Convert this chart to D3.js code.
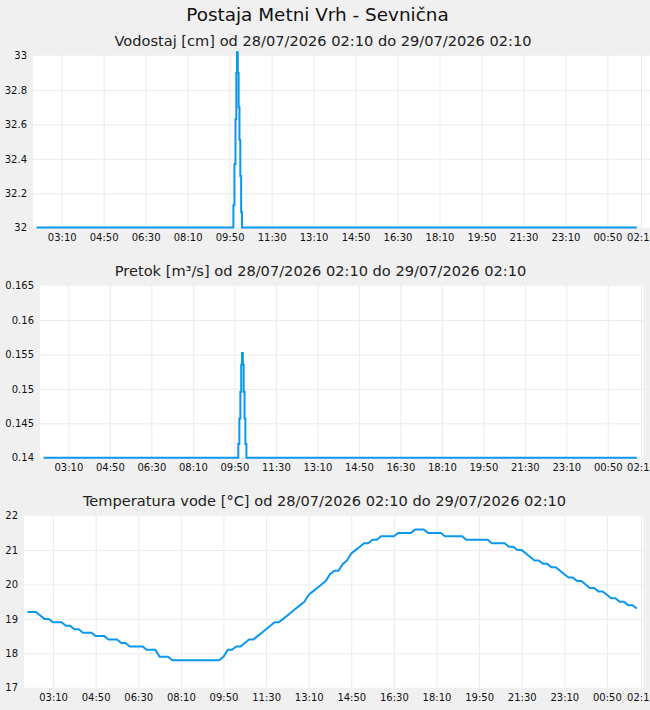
<!DOCTYPE html>
<html>
<head>
<meta charset="utf-8">
<script src="https://cdn.jsdelivr.net/npm/d3@7"></script>
<style>
html, body { margin: 0; padding: 0; background: #f0f0f0; }
svg { display: block; }
text { font-family: "DejaVu Sans", sans-serif; }
</style>
</head>
<body>
<svg id="chart" width="650" height="710"></svg>
<script>
// ---------------- DATA ----------------
const stationTitle = "Postaja Metni Vrh - Sevnična";
const levelTitle = "Vodostaj [cm] od 28/07/2026 02:10 do 29/07/2026 02:10";
const flowTitle = "Pretok [m³/s] od 28/07/2026 02:10 do 29/07/2026 02:10";
const tempTitle = "Temperatura vode [°C] od 28/07/2026 02:10 do 29/07/2026 02:10";

const startTime = "2026-07-28 02:10";
const endTime = "2026-07-29 02:10";

const xTickTimes = ["2026-07-28 03:10","2026-07-28 04:50","2026-07-28 06:30","2026-07-28 08:10",
  "2026-07-28 09:50","2026-07-28 11:30","2026-07-28 13:10","2026-07-28 14:50","2026-07-28 16:30",
  "2026-07-28 18:10","2026-07-28 19:50","2026-07-28 21:30","2026-07-28 23:10","2026-07-29 00:50",
  "2026-07-29 02:10"];

// Water level (minutes after start, value in cm) – step data
const levelMinutes = [0, 469, 471.5, 474, 476, 477.5, 479.5, 481.5, 483.5, 485.5, 487.5, 489.5, 1430];
const levelValues  = [32, 32.13, 32.37, 32.63, 32.90, 33.02, 32.90, 32.70, 32.51, 32.30, 32.09, 32, 32];
const levelTicks = [32, 32.2, 32.4, 32.6, 32.8, 33];

// Flow (minutes after start, value in m3/s) – step data
const flowMinutes = [0, 469.5, 472, 474.5, 476.5, 478.5, 480.5, 482.5, 484.5, 486.5, 489, 1430];
const flowValues  = [0.14, 0.1420, 0.1457, 0.1496, 0.1535, 0.1552, 0.1535, 0.1496, 0.1457, 0.1420, 0.14, 0.14];
const flowTicks = [0.14, 0.145, 0.15, 0.155, 0.16, 0.165];

// Water temperature, every 10 minutes from 02:10
const tempValues = [
  19.2,19.2,19.2,19.1,19.0,19.0,18.9,18.9,18.9,18.8,
  18.8,18.7,18.7,18.6,18.6,18.6,18.5,18.5,18.5,18.4,
  18.4,18.4,18.3,18.3,18.2,18.2,18.2,18.2,18.1,18.1,
  18.1,17.9,17.9,17.9,17.8,17.8,17.8,17.8,17.8,17.8,
  17.8,17.8,17.8,17.8,17.8,17.8,17.9,18.1,18.1,18.2,
  18.2,18.3,18.4,18.4,18.5,18.6,18.7,18.8,18.9,18.9,
  19.0,19.1,19.2,19.3,19.4,19.5,19.7,19.8,19.9,20.0,
  20.1,20.3,20.4,20.4,20.6,20.7,20.9,21.0,21.1,21.2,
  21.2,21.3,21.3,21.4,21.4,21.4,21.4,21.5,21.5,21.5,
  21.5,21.6,21.6,21.6,21.5,21.5,21.5,21.5,21.4,21.4,
  21.4,21.4,21.4,21.3,21.3,21.3,21.3,21.3,21.3,21.2,
  21.2,21.2,21.2,21.1,21.1,21.0,21.0,20.9,20.8,20.7,
  20.7,20.6,20.6,20.5,20.5,20.4,20.3,20.2,20.2,20.1,
  20.1,20.0,19.9,19.9,19.8,19.8,19.7,19.6,19.6,19.5,
  19.5,19.4,19.4,19.3
];
const tempTicks = [17, 18, 19, 20, 21, 22];

// ---------------- DRAW ----------------
const parse = d3.timeParse("%Y-%m-%d %H:%M");
const t0 = parse(startTime), t1 = parse(endTime);
const fmtTime = d3.timeFormat("%H:%M");
const tickDates = xTickTimes.map(parse);

const LINE = "#0a97ee";
const GRID = "#ebebeb";

const svg = d3.select("#chart");

svg.append("text").attr("x", 317.5).attr("y", 20.5).attr("text-anchor", "middle")
  .attr("font-size", 18.4).attr("fill", "#111").text(stationTitle);

const panels = [
  { title: levelTitle, titleX: 323, titleY: 45.5, left: 33, right: 650, top: 55.7, bottom: 227.6,
    domain: [32, 33], ticks: levelTicks,
    data: levelMinutes.map((m, i) => ({ t: d3.timeSecond.offset(t0, Math.round(m * 60)), v: levelValues[i] })),
    curve: d3.curveStepAfter },
  { title: flowTitle, titleX: 320.5, titleY: 275.5, left: 40, right: 643.3, top: 285.7, bottom: 457.7,
    domain: [0.14, 0.165], ticks: flowTicks,
    data: flowMinutes.map((m, i) => ({ t: d3.timeSecond.offset(t0, Math.round(m * 60)), v: flowValues[i] })),
    curve: d3.curveStepAfter },
  { title: tempTitle, titleX: 324.5, titleY: 505.5, left: 24, right: 643.3, top: 515.7, bottom: 687.7,
    domain: [17, 22], ticks: tempTicks,
    data: tempValues.map((v, i) => ({ t: d3.timeMinute.offset(t0, i * 10), v: v })),
    curve: d3.curveLinear }
];

panels.forEach(p => {
  svg.append("text").attr("x", p.titleX).attr("y", p.titleY).attr("text-anchor", "middle")
    .attr("font-size", 14.6).attr("fill", "#222").text(p.title);

  const g = svg.append("g");
  g.append("rect").attr("x", p.left).attr("y", p.top)
    .attr("width", p.right - p.left).attr("height", p.bottom - p.top).attr("fill", "#fff");

  const x = d3.scaleTime().domain([t0, t1]).range([p.left + 3.5, 641]);
  const y = d3.scaleLinear().domain(p.domain).range([p.bottom, p.top]);

  // vertical grid
  const vg = g.append("g").attr("transform", `translate(0,${p.bottom})`)
    .call(d3.axisBottom(x).tickValues(tickDates).tickSize(-(p.bottom - p.top)).tickFormat(""));
  vg.select(".domain").remove();
  vg.selectAll("line").attr("stroke", GRID);

  // horizontal grid
  const hg = g.append("g").attr("transform", `translate(${p.left},0)`)
    .call(d3.axisLeft(y).tickValues(p.ticks.slice(1, -1)).tickSize(-(p.right - p.left)).tickFormat(""));
  hg.select(".domain").remove();
  hg.selectAll("line").attr("stroke", GRID);

  // x labels
  const xa = g.append("g").attr("transform", `translate(0,${p.bottom})`)
    .call(d3.axisBottom(x).tickValues(tickDates).tickSize(0).tickPadding(6).tickFormat(fmtTime));
  xa.select(".domain").remove();
  xa.selectAll("text").attr("font-family", "DejaVu Sans").attr("font-size", 10).attr("fill", "#111");

  // y labels
  const ya = g.append("g").attr("transform", `translate(${p.left},0)`)
    .call(d3.axisLeft(y).tickValues(p.ticks).tickSize(0).tickPadding(6).tickFormat(d => String(+d.toFixed(3))));
  ya.select(".domain").remove();
  ya.selectAll("text").attr("font-family", "DejaVu Sans").attr("font-size", 10).attr("fill", "#111");

  const line = d3.line().x(d => x(d.t)).y(d => y(d.v)).curve(p.curve);
  g.append("path").datum(p.data).attr("d", line)
    .attr("fill", "none").attr("stroke", LINE).attr("stroke-width", 2);
});
</script>
</body>
</html>
